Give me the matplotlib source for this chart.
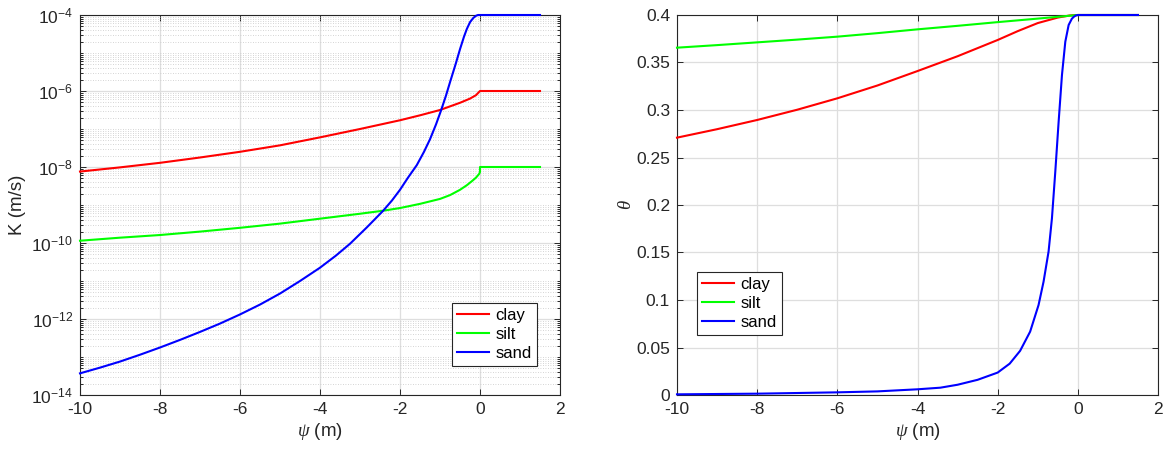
import numpy as np
import matplotlib
matplotlib.use('Agg')
import matplotlib.pyplot as plt
from matplotlib import ticker

plt.rcParams['font.family'] = ['Liberation Sans', 'DejaVu Sans']
plt.rcParams['mathtext.fontset'] = 'custom'
plt.rcParams['mathtext.rm'] = 'Liberation Sans'
plt.rcParams['mathtext.it'] = 'Liberation Serif:italic'
plt.rcParams['axes.unicode_minus'] = False

# hydraulic conductivity (log10 of K in m/s)
clay_psi_K = [-10, -9, -8, -7, -6, -5, -4, -3, -2, -1.5, -1, -0.5, -0.25, -0.1, 0, 1.5]
clay_logK = [-8.12, -8.01, -7.89, -7.75, -7.60, -7.43, -7.22, -7.00, -6.77, -6.64,
             -6.5, -6.31, -6.20, -6.11, -6.0, -6.0]

silt_psi_K = [-10, -9, -8, -7, -6, -5, -4, -3, -2.42, -2, -1.5, -1.0, -0.75, -0.5,
              -0.33, -0.2, -0.1, -0.02, 0, 0, 1.5]
silt_logK = [-9.94, -9.86, -9.79, -9.70, -9.60, -9.49, -9.36, -9.23, -9.15, -9.08,
             -8.97, -8.84, -8.74, -8.60, -8.48, -8.37, -8.28, -8.18, -8.13, -8.0, -8.0]

sand_psi_K = [-10, -9.5, -9, -8.5, -8, -7.5, -7, -6.5, -6, -5.5, -5, -4.5, -4, -3.6,
              -3.25, -2.83, -2.42, -2.2, -2, -1.8, -1.58, -1.4, -1.25, -1.1, -0.98,
              -0.85, -0.75, -0.6, -0.5, -0.4, -0.33, -0.25, -0.17, -0.1, -0.05, 0, 1.5]
sand_logK = [-13.43, -13.28, -13.12, -12.94, -12.75, -12.55, -12.34, -12.12, -11.88,
             -11.62, -11.33, -11.0, -10.65, -10.33, -10.02, -9.59, -9.15, -8.88, -8.6,
             -8.28, -7.95, -7.6, -7.27, -6.88, -6.53, -6.12, -5.77, -5.26, -4.9, -4.57,
             -4.37, -4.19, -4.08, -4.02, -4.0, -4.0, -4.0]

# water content
clay_psi_th = [-10, -9, -8, -7, -6, -5, -4, -3, -2, -1.5, -1, -0.5, -0.2, 0, 1.5]
clay_theta = [0.2709, 0.2798, 0.2895, 0.3003, 0.3123, 0.3258, 0.341, 0.3566, 0.3737,
              0.3830, 0.3915, 0.3973, 0.3995, 0.4, 0.4]

silt_psi_th = [-10, -9, -8, -7, -6, -5, -4, -3, -2, -1, 0, 1.5]
silt_theta = [0.3656, 0.3683, 0.3712, 0.3741, 0.3772, 0.3809, 0.3849, 0.3886, 0.3925,
              0.3962, 0.4, 0.4]

sand_psi_th = [-10, -8, -6, -5, -4, -3.43, -3, -2.5, -2, -1.7, -1.44, -1.19, -0.98,
               -0.855, -0.73, -0.646, -0.5625, -0.479, -0.396, -0.3125, -0.229, -0.15,
               -0.104, -0.05, 0, 1.5]
sand_theta = [0.0007, 0.0014, 0.0028, 0.0038, 0.006, 0.0077, 0.0108, 0.016, 0.0236,
              0.033, 0.0465, 0.0667, 0.0947, 0.1193, 0.151, 0.186, 0.235, 0.2877,
              0.3368, 0.3719, 0.3895, 0.3960, 0.398, 0.3995, 0.4, 0.4]

labels = ['clay', 'silt', 'sand']
colors = ['#ff0000', '#00ff00', '#0000ff']

axcol = (0.15, 0.15, 0.15)
tick_fs = 12.5
label_fs = 13.5

fig = plt.figure(figsize=(11.7, 4.5), dpi=100)
ax1 = fig.add_axes([80 / 1170, 55 / 450, 480 / 1170, 380 / 450])
ax2 = fig.add_axes([677 / 1170, 55 / 450, 481 / 1170, 380 / 450])


def style_axes(ax):
    for s in ax.spines.values():
        s.set_color(axcol)
        s.set_linewidth(0.8)
    ax.tick_params(which='both', direction='in', top=True, right=True,
                   colors=axcol, labelsize=tick_fs, width=0.7)
    ax.tick_params(which='major', length=4.5, pad=5)
    ax.tick_params(which='minor', length=2.5)
    ax.set_xlim(-10, 2)
    ax.set_xticks(np.arange(-10, 3, 2))
    ax.grid(True, which='major', color=(0.87, 0.87, 0.87), linewidth=0.9)
    ax.set_axisbelow(True)
    ax.set_xlabel(r'$\psi$ (m)', fontsize=label_fs, color=axcol, labelpad=3)


def legend(ax, **kw):
    leg = ax.legend(fontsize=12, fancybox=False, edgecolor=axcol, framealpha=1,
                    handlelength=1.9, handletextpad=0.4, labelspacing=0.25,
                    borderpad=0.3, borderaxespad=0, **kw)
    leg.get_frame().set_linewidth(0.8)


# left panel: K
style_axes(ax1)
ax1.set_yscale('log')
ax1.set_ylim(1e-14, 1e-4)
major = [10.0 ** e for e in range(-14, -3, 2)]
minor = [k * 10.0 ** e for e in range(-14, -4) for k in range(1, 10)
         if not (k == 1 and e % 2 == 0)]
ax1.yaxis.set_major_locator(ticker.FixedLocator(major))
ax1.yaxis.set_minor_locator(ticker.FixedLocator(minor))
ax1.yaxis.set_major_formatter(ticker.LogFormatterMathtext())
ax1.yaxis.set_minor_formatter(ticker.NullFormatter())
ax1.grid(True, which='minor', axis='y', color=(0.78, 0.78, 0.78),
         linestyle=(0, (1, 2)), linewidth=0.6)
for psi, lk, lab, c in zip([clay_psi_K, silt_psi_K, sand_psi_K],
                           [clay_logK, silt_logK, sand_logK], labels, colors):
    ax1.plot(psi, 10.0 ** np.array(lk), color=c, linewidth=1.5, label=lab,
             clip_on=False, zorder=3)
ax1.set_ylabel('K (m/s)', fontsize=label_fs, color=axcol, labelpad=4)
legend(ax1, loc='lower right', bbox_to_anchor=(0.952, 0.076))

# right panel: theta
style_axes(ax2)
ax2.set_ylim(0, 0.4)
ax2.set_yticks(np.arange(0, 0.401, 0.05))
ax2.yaxis.set_major_formatter(ticker.FormatStrFormatter('%g'))
for psi, th, lab, c in zip([clay_psi_th, silt_psi_th, sand_psi_th],
                           [clay_theta, silt_theta, sand_theta], labels, colors):
    ax2.plot(psi, th, color=c, linewidth=1.5, label=lab, clip_on=False, zorder=3)
ax2.set_ylabel(r'$\theta$', fontsize=label_fs, color=axcol, labelpad=1)
legend(ax2, loc='upper left', bbox_to_anchor=(0.042, 0.324))

fig.savefig('out.png', dpi=100)
